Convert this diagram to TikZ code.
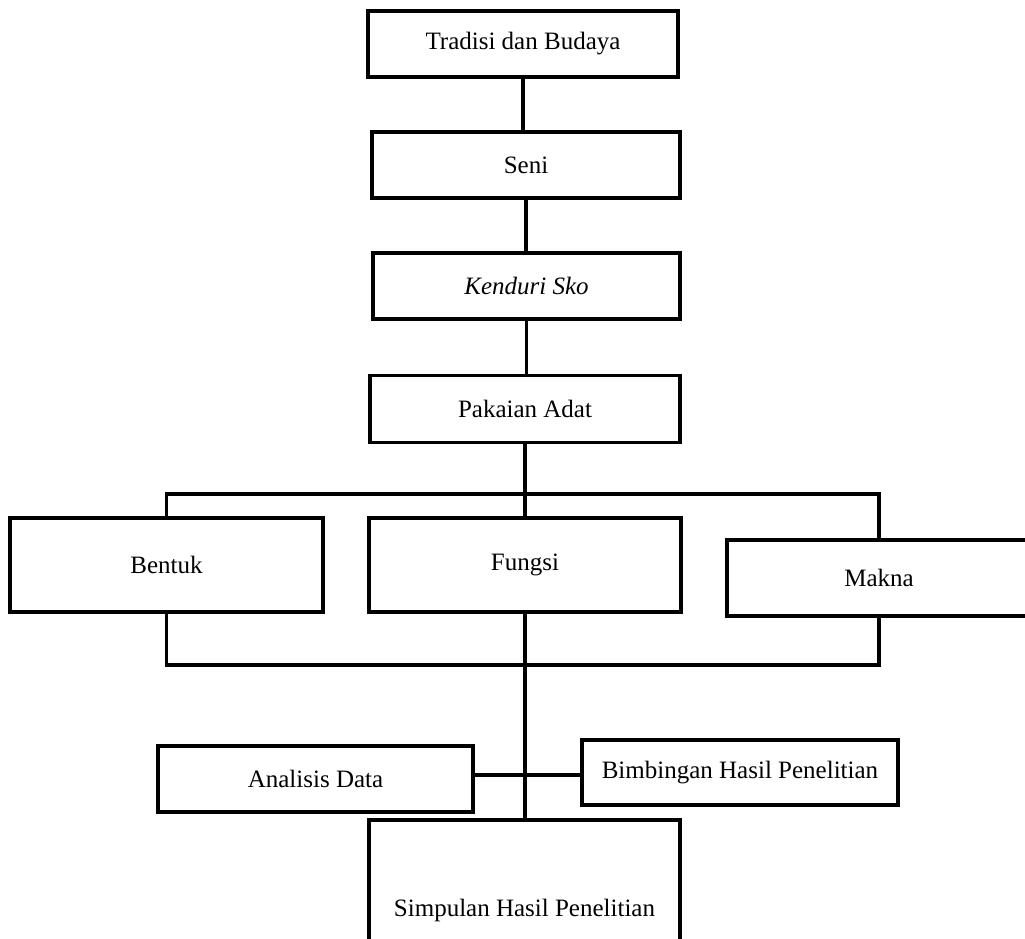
\documentclass[tikz,border=0pt]{standalone}
\usepackage{fontspec}
\setmainfont{Liberation Serif}
\begin{document}
\begin{tikzpicture}[x=0.5pt,y=-0.5pt,line width=1.8pt,
  kotak/.style={draw,rectangle,inner sep=0pt,font=\fontsize{12.5}{15}\selectfont}]
\useasboundingbox (0,0) rectangle (1025,939);
\node[kotak,minimum width=155pt,minimum height=33pt] (tradisi) at (523,44) {Tradisi dan Budaya};
\node[kotak,minimum width=154pt,minimum height=33pt] (seni) at (526,165) {Seni};
\node[kotak,minimum width=153.5pt,minimum height=33pt] (kenduri) at (526.5,286) {\itshape Kenduri Sko};
\node[kotak,minimum width=155pt,minimum height=33.5pt] (pakaian) at (525,409) {Pakaian Adat};
\node[kotak,minimum width=156.5pt,minimum height=47pt] (bentuk) at (166.5,565) {Bentuk};
\node[kotak,minimum width=156pt,minimum height=47pt] (fungsi) at (525,565) {Fungsi};
\node[kotak,minimum width=152pt,minimum height=38pt] (makna) at (879,578) {Makna};
\node[kotak,minimum width=157.5pt,minimum height=33pt] (analisis) at (315.5,779) {Analisis Data};
\node[kotak,minimum width=158pt,minimum height=32.5pt] (bimbingan) at (740,772.5) {Bimbingan Hasil Penelitian};
\node[kotak,minimum width=155.5pt,minimum height=90pt] (simpulan) at (524.5,910) {Simpulan Hasil Penelitian};
\coordinate (atas) at (525,494);
\coordinate (bawah) at (525,665);
\coordinate (tengah) at (525,775);
% garis penghubung
\draw (tradisi.south) -- (tradisi.south |- seni.north);
\draw (seni.south) -- (seni.south |- kenduri.north);
\draw (kenduri.south) -- (kenduri.south |- pakaian.north);
\draw (pakaian.south) -- (pakaian.south |- fungsi.north);
\draw (bentuk.north) |- (atas) -| (makna.north);
\draw (bentuk.south) |- (bawah) -| (makna.south);
\draw (fungsi.south) -- (fungsi.south |- simpulan.north);
\draw (analisis.east |- tengah) -- (bimbingan.west |- tengah);
\end{tikzpicture}
\end{document}
